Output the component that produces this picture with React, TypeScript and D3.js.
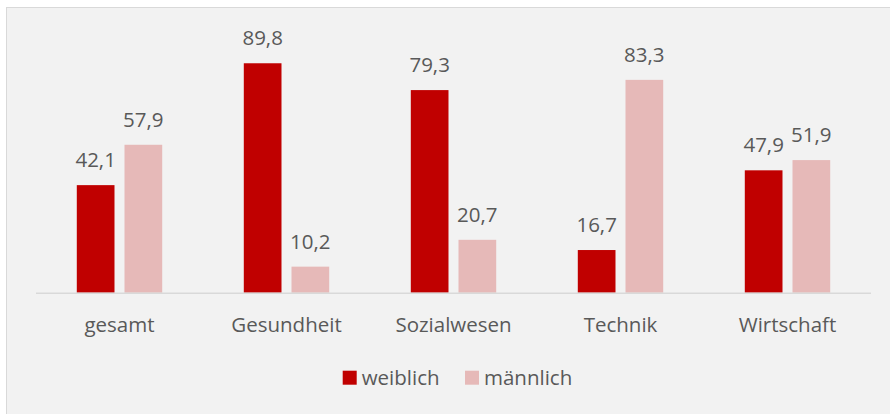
import React from 'react'
import * as d3 from 'd3'

const categories = ['gesamt', 'Gesundheit', 'Sozialwesen', 'Technik', 'Wirtschaft']
const seriesNames = ['weiblich', 'männlich']
const weiblich = [42.1, 89.8, 79.3, 16.7, 47.9]
const maennlich = [57.9, 10.2, 20.7, 83.3, 51.9]
const seriesValues = [weiblich, maennlich]
const colors = ['#c00000', '#e6b9b8']

const width = 890
const height = 414
const plot = { left: 36, right: 871, top: 37.2, bottom: 292.7 }
const font = "'Open Sans', sans-serif"
const textColor = '#595959'

const fmt = (v: number) => v.toFixed(1).replace('.', ',')

const App: React.FC = () => {
  const groupPad = 0.4886
  const x = d3
    .scaleBand()
    .domain(categories)
    .range([plot.left, plot.right])
    .paddingInner(groupPad)
    .paddingOuter(groupPad / 2)
  const xs = d3
    .scaleBand()
    .domain(seriesNames)
    .range([0, x.bandwidth()])
    .paddingInner(0.21)
    .paddingOuter(0)
  const y = d3.scaleLinear().domain([0, 100]).range([plot.bottom, plot.top])

  return (
    <svg
      width={width}
      height={height}
      style={{ position: 'absolute', left: 0, top: 0, display: 'block' }}
    >
      <rect x={0} y={0} width={width} height={height} fill="#ffffff" />
      <rect x={6.5} y={7.5} width={width + 10} height={height + 10} fill="#f2f2f2" stroke="#d9d9d9" strokeWidth={1} />

      {categories.map((c, i) => (
        <g key={c} transform={`translate(${x(c)},0)`}>
          {seriesNames.map((s, si) => {
            const v = seriesValues[si][i]
            const bx = xs(s) as number
            return (
              <g key={s}>
                <rect
                  x={bx}
                  y={y(v)}
                  width={xs.bandwidth()}
                  height={y(0) - y(v)}
                  fill={colors[si]}
                />
                <text
                  x={bx + xs.bandwidth() / 2}
                  y={y(v) - 18}
                  textAnchor="middle"
                  fontFamily={font}
                  fontSize={20.5}
                  fill={textColor}
                >
                  {fmt(v)}
                </text>
              </g>
            )
          })}
          <text
            x={x.bandwidth() / 2}
            y={331.7}
            textAnchor="middle"
            fontFamily={font}
            fontSize={20.5}
            fill={textColor}
          >
            {c}
          </text>
        </g>
      ))}

      <line x1={plot.left} x2={plot.right} y1={y(0) + 0.5} y2={y(0) + 0.5} stroke="#d9d9d9" strokeWidth={1.5} />

      {seriesNames.map((s, si) => {
        const lx = si === 0 ? 342.7 : 465
        return (
          <g key={s}>
            <rect x={lx} y={370.7} width={14} height={14} fill={colors[si]} />
            <text x={lx + 19} y={385} fontFamily={font} fontSize={20.5} fill={textColor}>
              {s}
            </text>
          </g>
        )
      })}
    </svg>
  )
}

export default App
